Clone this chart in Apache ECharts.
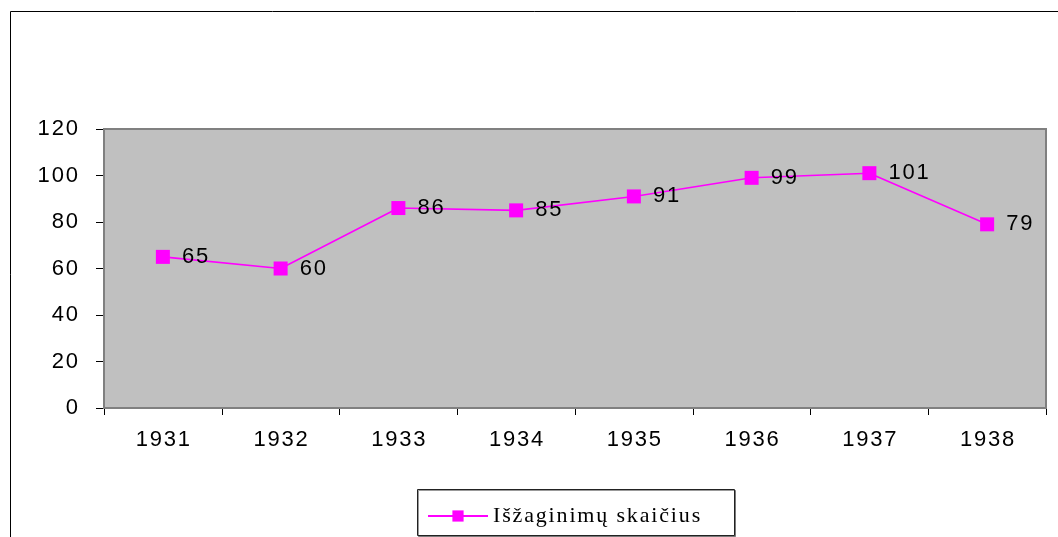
<!DOCTYPE html>
<html><head><meta charset="utf-8">
<script src="https://cdn.jsdelivr.net/npm/echarts@6/dist/echarts.min.js"></script>
<style>html,body{margin:0;padding:0;background:#fff;}#c{width:1058px;height:537px;}</style>
</head><body><div id="c"></div>
<script>
const categories = ['1931','1932','1933','1934','1935','1936','1937','1938'];
const values = [65, 60, 86, 85, 91, 99, 101, 79];
const yTicks = [0, 20, 40, 60, 80, 100, 120];
const seriesName = 'Išžaginimų skaičius';

const sp = s => String(s).split('').join('\u200A');

const chart = echarts.init(document.getElementById('c'), null, {renderer: 'canvas'});
chart.setOption({
  animation: false,
  backgroundColor: '#fff',
  graphic: [
    {type: 'rect', shape: {x: 10.5, y: 11.5, width: 1100, height: 600}, style: {fill: 'none', stroke: '#000', lineWidth: 1}, z: 0},
    {type: 'rect', shape: {x: 417.5, y: 489.5, width: 317, height: 46}, style: {fill: '#fff', stroke: '#222', lineWidth: 1, shadowColor: 'rgba(0,0,0,0.4)', shadowOffsetX: 1, shadowOffsetY: 1}, z: 1}
  ],
  grid: {left: 104, right: 12, top: 129, bottom: 129, show: true, backgroundColor: '#C0C0C0', borderColor: '#808080', borderWidth: 2, z: 2},
  legend: {
    data: [seriesName], left: 422, top: 500, itemWidth: 60, itemHeight: 14, itemGap: 5,
    formatter: n => sp(n),
    textStyle: {fontFamily: 'Liberation Serif', fontSize: 22, color: '#000'}, z: 3
  },
  xAxis: {
    type: 'category', data: categories, boundaryGap: true,
    axisLine: {lineStyle: {color: '#000', width: 1}},
    axisTick: {show: true, length: 7, lineStyle: {color: '#000'}, alignWithLabel: false},
    axisLabel: {color: '#000', fontFamily: 'Liberation Sans', fontSize: 22, margin: 21, formatter: v => sp(v)}
  },
  yAxis: {
    type: 'value', min: 0, max: 120, interval: 20,
    axisLine: {show: true, lineStyle: {color: '#000', width: 1}},
    axisTick: {show: true, length: 8, lineStyle: {color: '#000'}},
    axisLabel: {color: '#000', fontFamily: 'Liberation Sans', fontSize: 22, margin: 26,
      formatter: v => yTicks.includes(v) ? sp(v) : ''},
    splitLine: {show: true, lineStyle: {color: '#333', width: 1}}
  },
  series: [{
    name: seriesName, type: 'line', data: values,
    symbol: 'rect', symbolSize: 14,
    lineStyle: {color: '#FF00FF', width: 1.6},
    itemStyle: {color: '#FF00FF'},
    label: {show: true, position: 'right', distance: 12, color: '#000', fontFamily: 'Liberation Sans', fontSize: 22,
      formatter: p => sp(p.value)},
    z: 5
  }]
});
</script></body></html>
